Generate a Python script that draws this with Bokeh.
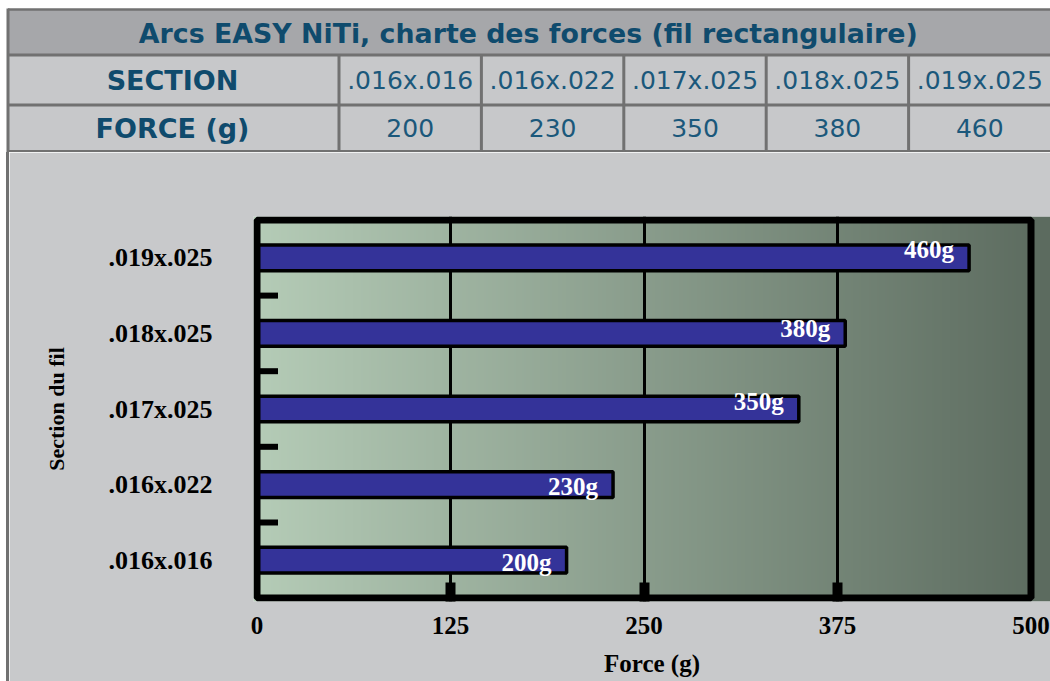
import numpy as np
from bokeh.plotting import figure
from bokeh.models import Range1d, FixedTicker, ColumnDataSource, Spacer
from bokeh.layouts import column, row
from bokeh.embed import file_html
from bokeh.resources import INLINE
from bokeh.core.properties import value

# ---------------- data ----------------
title_text = "Arcs EASY NiTi, charte des forces (fil rectangulaire)"
row_headers = ["SECTION", "FORCE (g)"]
sections = [".016x.016", ".016x.022", ".017x.025", ".018x.025", ".019x.025"]
forces = [200, 230, 350, 380, 460]
x_ticks = [0, 125, 250, 375, 500]
x_title = "Force (g)"
y_title = "Section du fil"

# ---------------- style ----------------
label_dy = [2, 2, -8, -5, -8]          # small vertical nudges of the bar labels (px)
W = 1050
TABLE_H = 152
CHART_H = 681 - TABLE_H
GRAY = "#c8c9cb"
HEAD_GRAY = "#a6a7aa"
ROW_GRAY = "#c7c8ca"
LINE_GRAY = "#717171"
TEXT_BLUE = "#0f4b6d"
VAL_BLUE = "#1b587b"
SANS = "DejaVu Sans"
SERIF = "Liberation Serif"
LEFT_MARGIN = 6
LEFT_LINE = 3
STUB_PX = 21

# ---------------- table figure ----------------
t = figure(width=W, height=TABLE_H, x_range=Range1d(0, W), y_range=Range1d(TABLE_H, 0),
           min_border=0, toolbar_location=None, output_backend="svg", frame_align=False,
           background_fill_color="white", border_fill_color="white", outline_line_color=None)
t.axis.visible = False
t.grid.visible = False

x_left = LEFT_MARGIN + LEFT_LINE / 2
first_right = 338.5
col_w = (W + 0.5 - first_right) / len(sections)
row_y = [9, 54.5, 104.5, 151]
col_x = [first_right + i * col_w for i in range(len(sections))]

t.quad(left=x_left, right=W, top=row_y[0], bottom=row_y[1], fill_color=HEAD_GRAY, line_color=None)
t.quad(left=x_left, right=W, top=row_y[1], bottom=TABLE_H, fill_color=ROW_GRAY, line_color=None)

t.segment(x0=[x_left] * 4, x1=[W] * 4, y0=row_y, y1=row_y, line_color=LINE_GRAY,
          line_width=[2.5, 3, 3, 3])
t.segment(x0=[x_left] + col_x, x1=[x_left] + col_x, y0=[row_y[0] - 1] + [row_y[1]] * len(col_x),
          y1=[TABLE_H] * (len(col_x) + 1), line_color=LINE_GRAY, line_width=3)

t.text(x=[(x_left + W) / 2 - 1], y=[(row_y[0] + row_y[1]) / 2 + 1], text=[title_text],
       text_align="center", text_baseline="middle", text_font=value(SANS),
       text_font_style="bold", text_font_size="26.8px", text_color=TEXT_BLUE)
t.text(x=[(x_left + first_right) / 2 - 1] * 2,
       y=[(row_y[1] + row_y[2]) / 2, (row_y[2] + row_y[3]) / 2],
       text=row_headers, text_align="center", text_baseline="middle", text_font=value(SANS),
       text_font_style="bold", text_font_size="27px", text_color=TEXT_BLUE)
cx = [c + col_w / 2 for c in col_x]
t.text(x=cx, y=[(row_y[1] + row_y[2]) / 2] * len(cx), text=sections, text_align="center",
       text_baseline="middle", text_font=value(SANS), text_font_size="25px", text_color=VAL_BLUE)
t.text(x=cx, y=[(row_y[2] + row_y[3]) / 2] * len(cx), text=[str(f) for f in forces],
       text_align="center", text_baseline="middle", text_font=value(SANS), text_font_size="25px",
       text_color=VAL_BLUE)

# ---------------- chart figure ----------------
CW = W - LEFT_MARGIN - LEFT_LINE
BORDER = 7
FRAME_L = 253 - LEFT_MARGIN - LEFT_LINE
FRAME_T = 216 - TABLE_H
FRAME_H = 601 - 216
FRAME_W = CW - FRAME_L
n = len(sections)
ppu_y = (FRAME_H - BORDER) / n
ey = (BORDER / 2) / ppu_y
ppu_x = 774.0 / x_ticks[-1]
x_start = -(BORDER / 2) / ppu_x
x_end = x_start + FRAME_W / ppu_x

c = figure(width=CW, height=CHART_H,
           x_range=Range1d(x_start, x_end), y_range=Range1d(-0.5 - ey, n - 0.5 + ey),
           min_border_left=FRAME_L, min_border_right=0, min_border_top=FRAME_T,
           min_border_bottom=CHART_H - FRAME_T - FRAME_H, frame_align=False,
           toolbar_location=None, output_backend="svg",
           background_fill_color=GRAY, border_fill_color=GRAY, outline_line_color=None)

# gradient background
N = 400
tt = np.linspace(0, 1, N)
c0 = np.array([181, 204, 183])
c1 = np.array([92, 107, 95])
cols = (c0[None, :] * (1 - tt[:, None]) + c1[None, :] * tt[:, None]).astype(np.uint8)
img = np.empty((1, N), dtype=np.uint32)
v = img.view(dtype=np.uint8).reshape((1, N, 4))
v[0, :, 0] = cols[:, 0]
v[0, :, 1] = cols[:, 1]
v[0, :, 2] = cols[:, 2]
v[0, :, 3] = 255
c.image_rgba(image=[img], x=x_start, y=-0.5 - ey, dw=x_end - x_start, dh=n + 2 * ey, level="image")

# grid
c.xgrid.ticker = FixedTicker(ticks=x_ticks[1:-1])
c.xgrid.grid_line_color = "black"
c.xgrid.grid_line_width = 3
c.ygrid.visible = False

# short marks between categories, starting at the frame border
bounds = [i + 0.5 for i in range(n - 1)]
c.segment(x0=[x_ticks[0]] * len(bounds), x1=[x_ticks[0] + STUB_PX / ppu_x] * len(bounds),
          y0=bounds, y1=bounds, line_color="black", line_width=6)

src = ColumnDataSource(dict(y=list(range(n)), force=forces, label=[f"{f}g" for f in forces],
                            dy=label_dy))
c.hbar(y="y", left=0, right="force", height=0.34, source=src, fill_color="#343399",
       line_color="black", line_width=3.5)
c.text(x="force", y="y", text="label", source=src, x_offset=-15, y_offset="dy",
       text_align="right", text_baseline="middle", text_font=value(SERIF),
       text_font_style="bold", text_font_size="25px", text_color="white")

# frame border
c.quad(left=[x_ticks[0]], right=[x_ticks[-1]], bottom=[-0.5], top=[n - 0.5], fill_color=None,
       line_color="black", line_width=BORDER)

# axes
xa = c.xaxis[0]
xa.ticker = FixedTicker(ticks=x_ticks, minor_ticks=x_ticks[1:-1])
xa.axis_line_color = None
xa.major_tick_line_color = None
xa.major_tick_in = 0
xa.major_tick_out = 0
xa.minor_tick_in = 19
xa.minor_tick_out = 0
xa.minor_tick_line_width = 10
xa.minor_tick_line_color = "black"
xa.major_label_standoff = 15
xa.major_label_text_font = SERIF
xa.major_label_text_font_style = "bold"
xa.major_label_text_font_size = "25px"
xa.major_label_text_color = "black"
xa.axis_label = x_title
xa.axis_label_standoff = 13
xa.axis_label_text_font = SERIF
xa.axis_label_text_font_style = "bold"
xa.axis_label_text_font_size = "25px"
xa.axis_label_text_color = "black"

ya = c.yaxis[0]
ya.ticker = FixedTicker(ticks=list(range(n)))
ya.major_label_overrides = {i: s for i, s in enumerate(sections)}
ya.axis_line_color = None
ya.major_tick_line_color = None
ya.minor_tick_line_color = None
ya.major_tick_in = 0
ya.major_tick_out = 0
ya.minor_tick_in = 0
ya.minor_tick_out = 0
ya.major_label_standoff = 41
ya.major_label_text_font = SERIF
ya.major_label_text_font_style = "bold"
ya.major_label_text_font_size = "26px"
ya.major_label_text_color = "black"
ya.axis_label = y_title
ya.axis_label_standoff = 37
ya.axis_label_text_font = SERIF
ya.axis_label_text_font_style = "bold"
ya.axis_label_text_font_size = "22px"
ya.axis_label_text_color = "black"

left_pad = Spacer(width=LEFT_MARGIN, height=CHART_H, styles={"background-color": "white"})
left_line = Spacer(width=LEFT_LINE, height=CHART_H, styles={"background-color": LINE_GRAY})
layout = column(t, row(left_pad, left_line, c, spacing=0), spacing=0)
open("out.html", "w").write(file_html(layout, INLINE))
